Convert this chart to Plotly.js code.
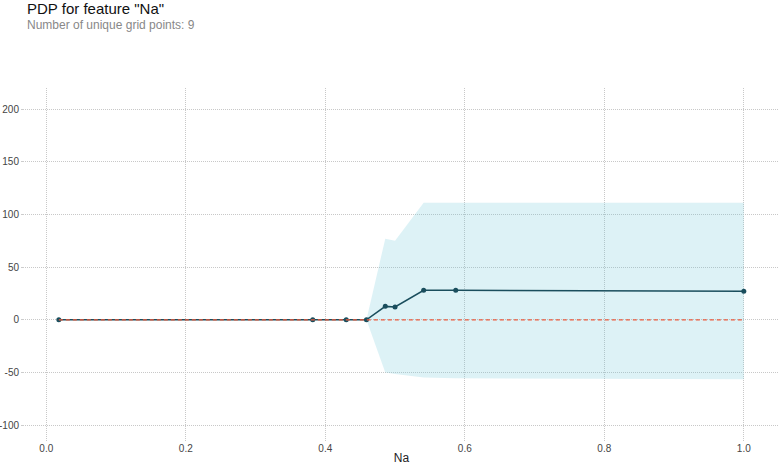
<!DOCTYPE html>
<html>
<head>
<meta charset="utf-8">
<script src="https://cdn.plot.ly/plotly-3.0.1.min.js"></script>
<style>html,body{margin:0;padding:0;background:#fff;}#chart{width:778px;height:465px;}</style>
</head>
<body>
<div id="chart"></div>
<script>
const gridPoints = [0.018, 0.382, 0.430, 0.459, 0.486, 0.500, 0.541, 0.587, 1.0];
const pdpValues  = [0, 0, 0, 0, 12.8, 12.2, 28.0, 28.0, 27.1];
const upperBound = [0, 0, 0, 0, 77, 75, 111, 111, 111];
const lowerBound = [0, 0, 0, 0, -50, -51.5, -54.7, -55.5, -56.3];
const zeroLine   = gridPoints.map(() => 0);
const xTicks = [0, 0.2, 0.4, 0.6, 0.8, 1.0];
const xTickLabels = ["0.0", "0.2", "0.4", "0.6", "0.8", "1.0"];
const yTicks = [-100, -50, 0, 50, 100, 150, 200];
const yTickLabels = ["-100", "-50", "0", "50", "100", "150", "200"];

const traces = [
  {x: gridPoints, y: upperBound, mode: 'lines', line: {width: 0, color: 'rgba(0,0,0,0)'}, hoverinfo: 'skip', showlegend: false},
  {x: gridPoints, y: lowerBound, mode: 'lines', line: {width: 0, color: 'rgba(0,0,0,0)'}, fill: 'tonexty', fillcolor: 'rgba(102,194,215,0.22)', hoverinfo: 'skip', showlegend: false},
  {x: gridPoints, y: pdpValues, mode: 'lines+markers', line: {color: '#1A4E5D', width: 1.6}, marker: {color: '#1A4E5D', size: 5}, showlegend: false},
  {x: [gridPoints[0], gridPoints[gridPoints.length-1]], y: [zeroLine[0], zeroLine[zeroLine.length-1]], mode: 'lines', line: {color: '#EE5A3C', width: 1.2, dash: '4px,3px'}, showlegend: false}
];

const layout = {
  width: 778, height: 465,
  margin: {l: 25, r: 0, t: 88, b: 24},
  paper_bgcolor: '#fff', plot_bgcolor: '#fff',
  font: {family: 'Arial, "Liberation Sans", sans-serif', color: '#444', size: 10},
  showlegend: false,
  xaxis: {
    range: [-0.0305, 1.049], tickvals: xTicks, ticktext: xTickLabels,
    showgrid: true, gridcolor: '#c8c8c8', griddash: '1px,1px', gridwidth: 1,
    zeroline: false, showline: false, ticks: '', automargin: false,
    tickfont: {size: 10, color: '#444'},
    title: {text: 'Na', font: {size: 12, color: '#222'}, standoff: 4}
  },
  yaxis: {
    range: [-115, 220], tickvals: yTicks, ticktext: yTickLabels,
    showgrid: true, gridcolor: '#c8c8c8', griddash: '1px,1px', gridwidth: 1,
    zeroline: false, showline: false, ticks: 'outside', ticklen: 3, tickcolor: '#ccc',
    automargin: false, tickfont: {size: 10, color: '#444'}
  },
  annotations: [
    {text: 'PDP for feature "Na"', x: 25, y: 8, showarrow: false,
     xanchor: 'left', yanchor: 'middle', font: {size: 15, color: '#111'}},
    {text: 'Number of unique grid points: 9', x: 25, y: 25, showarrow: false,
     xanchor: 'left', yanchor: 'middle', font: {size: 12, color: '#888'}}
  ]
};
const plotW = 778 - 25 - 0, plotH = 465 - 88 - 24;
layout.annotations.forEach(a => {
  a.xref = 'paper'; a.yref = 'paper';
  a.x = (a.x - 25) / plotW;
  a.y = (465 - 24 - a.y) / plotH;
});
Plotly.newPlot('chart', traces, layout, {displayModeBar: false, staticPlot: true});
</script>
</body>
</html>
